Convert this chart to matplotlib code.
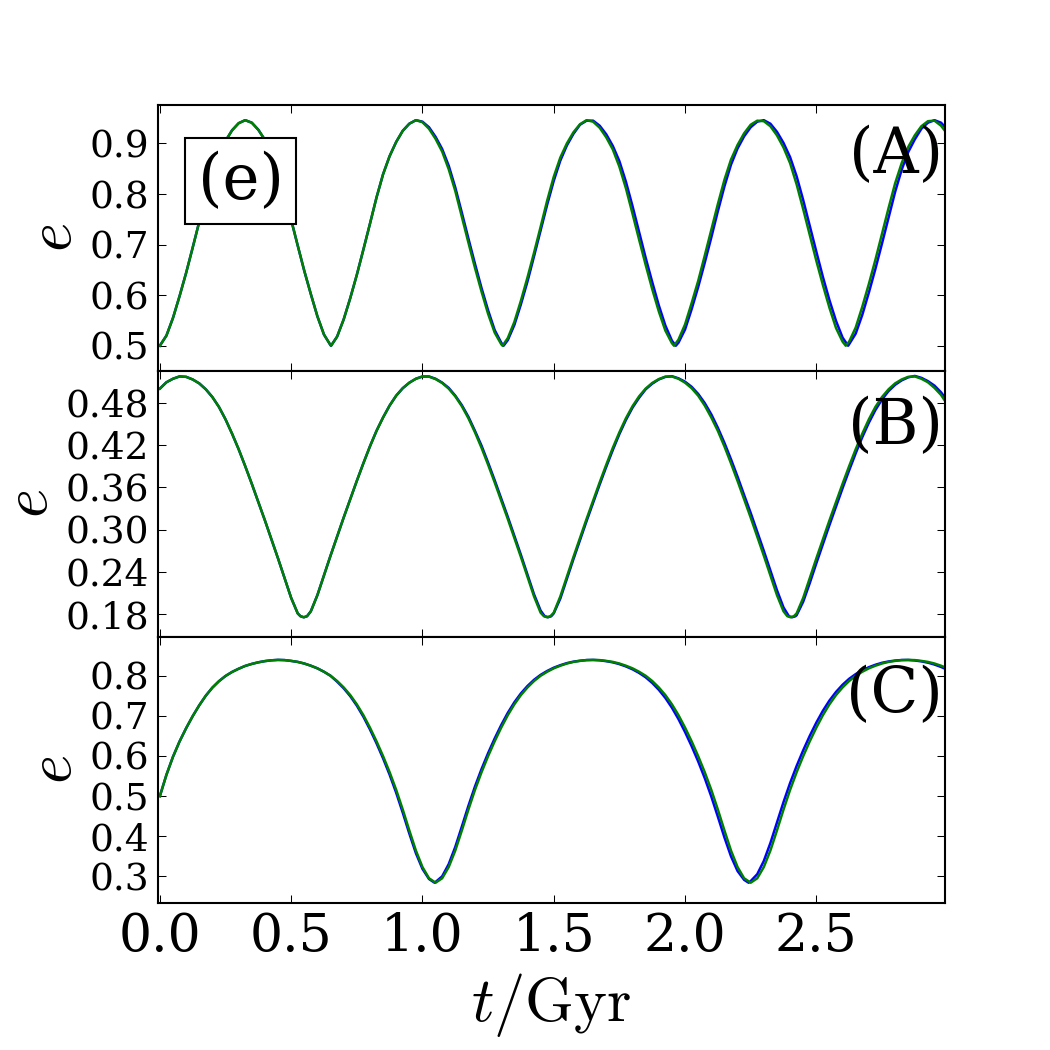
import numpy as np
import matplotlib
matplotlib.use('Agg')
import matplotlib.pyplot as plt

plt.rcParams['font.family'] = 'serif'
plt.rcParams['font.serif'] = ['DejaVu Serif']
plt.rcParams['mathtext.fontset'] = 'cm'

# sample times (Gyr), values every 0.025 Gyr
t_gyr = np.linspace(0.0, 3.0, 121)

e_A_green = [0.500, 0.520, 0.555, 0.598, 0.644, 0.694, 0.745, 0.797, 0.842, 0.878, 0.905, 0.926, 0.940,
             0.946,
             0.941, 0.927, 0.907, 0.880, 0.845, 0.800, 0.749, 0.698, 0.648, 0.602, 0.558, 0.522, 0.501,
             0.518, 0.552, 0.594, 0.640, 0.690, 0.741, 0.793, 0.839, 0.875, 0.903, 0.925, 0.939, 0.946,
             0.942, 0.929, 0.909, 0.884, 0.849, 0.806, 0.755, 0.704, 0.654, 0.607, 0.563, 0.526, 0.503,
             0.515, 0.547, 0.589, 0.635, 0.684, 0.735, 0.787, 0.834, 0.872, 0.900, 0.922, 0.938, 0.946,
             0.943, 0.931, 0.912, 0.888, 0.854, 0.811, 0.761, 0.710, 0.660, 0.612, 0.568, 0.530, 0.505,
             0.512, 0.542, 0.584, 0.628, 0.678, 0.729, 0.780, 0.828, 0.868, 0.897, 0.920, 0.937, 0.945,
             0.944, 0.934, 0.916, 0.892, 0.861, 0.819, 0.770, 0.719, 0.668, 0.620, 0.575, 0.535, 0.508,
             0.508, 0.536, 0.577, 0.622, 0.670, 0.721, 0.772, 0.821, 0.861, 0.893, 0.916, 0.934, 0.944,
             0.945, 0.935, 0.918]
e_A_blue = e_A_green[:40] + [
             0.943, 0.932, 0.913, 0.889, 0.856, 0.813, 0.763, 0.712, 0.662, 0.614, 0.570, 0.531, 0.506,
             0.511, 0.541, 0.582, 0.627, 0.677, 0.728, 0.779, 0.826, 0.866, 0.896, 0.919, 0.937, 0.945,
             0.945, 0.935, 0.918, 0.895, 0.865, 0.824, 0.776, 0.725, 0.674, 0.626, 0.580, 0.540, 0.510,
             0.506, 0.532, 0.572, 0.616, 0.664, 0.714, 0.766, 0.815, 0.858, 0.890, 0.914, 0.932, 0.943,
             0.946, 0.939, 0.923, 0.901, 0.873, 0.835, 0.788, 0.737, 0.686, 0.636, 0.590, 0.549, 0.516,
             0.503, 0.524, 0.561, 0.605, 0.652, 0.702, 0.753, 0.804, 0.848, 0.883, 0.908, 0.929, 0.941,
             0.946, 0.941, 0.927]
# minima that fall between samples
tmin_A_green = [0.652, 1.305, 1.958, 2.612]
tmin_A_blue = [0.652, 1.309, 1.965, 2.621]
emin_A = [0.500, 0.500, 0.500, 0.500]

e_B_green = [0.500, 0.509, 0.514, 0.5173,
             0.5167, 0.513, 0.5074, 0.499, 0.488, 0.474, 0.4564, 0.436, 0.414, 0.390, 0.365, 0.339, 0.313,
             0.286, 0.259, 0.231, 0.203, 0.181,
             0.1757,
             0.184, 0.207, 0.235, 0.263, 0.290, 0.317, 0.343, 0.369, 0.394, 0.418, 0.440, 0.459, 0.476,
             0.490, 0.5006, 0.5084, 0.514, 0.5172,
             0.517, 0.5135, 0.508, 0.500, 0.489, 0.475, 0.458, 0.438, 0.416, 0.392, 0.367, 0.341, 0.315,
             0.288, 0.261, 0.233, 0.205, 0.182,
             0.1755,
             0.182, 0.205, 0.233, 0.261, 0.288, 0.315, 0.341, 0.367, 0.392, 0.416, 0.438, 0.458, 0.475,
             0.489, 0.500, 0.508, 0.5135, 0.517,
             0.5172, 0.514, 0.5084, 0.5006, 0.490, 0.476, 0.459, 0.440, 0.418, 0.394, 0.369, 0.343, 0.317,
             0.290, 0.263, 0.235, 0.207, 0.184,
             0.1757,
             0.181, 0.203, 0.231, 0.259, 0.286, 0.313, 0.339, 0.365, 0.390, 0.414, 0.436, 0.4564, 0.474,
             0.488, 0.499, 0.5074, 0.513, 0.5167,
             0.5173, 0.514, 0.509, 0.501, 0.491, 0.477]
e_B_blue = e_B_green[:40] + [
             0.5172,
             0.5172, 0.514, 0.5085, 0.501, 0.490, 0.4765, 0.460, 0.440, 0.419, 0.395, 0.370, 0.344, 0.318,
             0.291, 0.264, 0.236, 0.208, 0.185,
             0.176,
             0.181, 0.202, 0.230, 0.258, 0.285, 0.312, 0.338, 0.364, 0.389, 0.413, 0.4355, 0.4556, 0.473,
             0.487, 0.499, 0.507, 0.513, 0.5166,
             0.5176, 0.5146, 0.5098, 0.5026, 0.4925, 0.4795, 0.4635, 0.4444, 0.423, 0.3997, 0.375, 0.349,
             0.3236, 0.2966, 0.2698, 0.242, 0.214, 0.1894,
             0.1765,
             0.1785, 0.1976, 0.224, 0.252, 0.2794, 0.3064, 0.3327, 0.3587, 0.384, 0.4083, 0.431, 0.4516,
             0.4696, 0.4845, 0.4965, 0.5054, 0.5117, 0.516,
             0.518, 0.5153, 0.5106, 0.5042, 0.4947, 0.4823]
tmin_B_green = [0.5355, 0.548, 0.5605, 1.4625, 1.4875, 2.3895, 2.402, 2.4145]
emin_B_green = [0.177, 0.1755, 0.177, 0.177, 0.177, 0.177, 0.1755, 0.177]
tmin_B_blue = [0.5355, 0.548, 0.5605, 1.4655, 1.478, 1.4905, 2.3955, 2.408, 2.4205]
emin_B_blue = [0.177, 0.1755, 0.177, 0.177, 0.1755, 0.177, 0.177, 0.1755, 0.177]

e_C_green = [0.500, 0.553, 0.598, 0.636, 0.669, 0.699, 0.726, 0.750, 0.770, 0.786, 0.799, 0.809, 0.817,
             0.824, 0.829, 0.833, 0.836, 0.838, 0.839,
             0.8385, 0.8365, 0.834, 0.830, 0.8245, 0.818, 0.8095, 0.7995, 0.7865, 0.7705, 0.7515, 0.7285,
             0.7015, 0.6705, 0.6365, 0.5995, 0.5595, 0.5155, 0.4665, 0.4145, 0.3645, 0.3235, 0.2955, 0.2845,
             0.2955, 0.3235, 0.3645, 0.4145, 0.4665, 0.5155, 0.5595, 0.5995, 0.6365, 0.6705, 0.7015, 0.7285,
             0.7515, 0.7705, 0.7865, 0.7995, 0.8095, 0.818, 0.8245, 0.830, 0.834, 0.8365, 0.8385, 0.839,
             0.8385, 0.8365, 0.834, 0.830, 0.8245, 0.818, 0.8095, 0.7995, 0.7865, 0.7705, 0.7515, 0.7285,
             0.7015, 0.6705, 0.6365, 0.5995, 0.5595, 0.5155, 0.4665, 0.4145, 0.3645, 0.3235, 0.2955, 0.2845,
             0.2955, 0.3235, 0.3645, 0.4145, 0.4665, 0.5155, 0.5595, 0.5995, 0.6365, 0.6705, 0.7015, 0.7285,
             0.7515, 0.7705, 0.7865, 0.7995, 0.8095, 0.818, 0.8245, 0.830, 0.834, 0.8365, 0.8385, 0.839,
             0.8385, 0.8365, 0.834, 0.830, 0.8245, 0.818]
e_C_blue = e_C_green[:27] + [
             0.7848, 0.7684, 0.7488, 0.7253, 0.6977, 0.6661, 0.6316, 0.5941, 0.5533, 0.5084, 0.4588, 0.4069,
             0.3581, 0.319, 0.2937, 0.2863, 0.3003, 0.3307, 0.3735, 0.4241, 0.4757, 0.5239, 0.5673, 0.6069,
             0.6434, 0.6769, 0.7072, 0.7335, 0.7557, 0.7741, 0.7895, 0.8018, 0.8115, 0.8196, 0.8258, 0.831,
             0.8346, 0.837, 0.8386, 0.8389, 0.838, 0.8358, 0.8329, 0.8285, 0.8227, 0.8156, 0.8066, 0.7957,
             0.7817, 0.7647, 0.7444, 0.7201, 0.6917, 0.6596, 0.6245, 0.5864, 0.5449, 0.499, 0.4488, 0.3973,
             0.3502, 0.3136, 0.2916, 0.2885, 0.3057, 0.3386, 0.3831, 0.4341, 0.4851, 0.5324, 0.575, 0.614,
             0.65, 0.6829, 0.7124, 0.7379, 0.7593, 0.7772, 0.792, 0.8037, 0.8131, 0.8208, 0.8269, 0.8318,
             0.8351, 0.8374, 0.8387, 0.8388, 0.8376, 0.8353, 0.8321, 0.8274, 0.8214, 0.8142]
tmin_C_green = []
emin_C_green = []
tmin_C_blue = [1.046, 2.242]
emin_C_blue = [0.2845, 0.2845]

panel_names = ['(A)', '(B)', '(C)']
yticks_A = [0.5, 0.6, 0.7, 0.8, 0.9]
yticks_B = [0.18, 0.24, 0.30, 0.36, 0.42, 0.48]
yticks_C = [0.3, 0.4, 0.5, 0.6, 0.7, 0.8]
xticks = [0.0, 0.5, 1.0, 1.5, 2.0, 2.5]


def with_minima(e_grid, t_extra, e_extra):
    t_all = np.concatenate([t_gyr, np.array(t_extra, dtype=float)])
    e_all = np.concatenate([np.array(e_grid, dtype=float), np.array(e_extra, dtype=float)])
    order = np.argsort(t_all, kind='stable')
    return t_all[order], e_all[order]


fig, axes = plt.subplots(3, 1, sharex=True, figsize=(7, 7), dpi=150)
fig.subplots_adjust(left=0.15, right=0.9, bottom=0.14, top=0.9, hspace=0)

blues = [with_minima(e_A_blue, tmin_A_blue, emin_A),
         with_minima(e_B_blue, tmin_B_blue, emin_B_blue),
         with_minima(e_C_blue, tmin_C_blue, emin_C_blue)]
greens = [with_minima(e_A_green, tmin_A_green, emin_A),
          with_minima(e_B_green, tmin_B_green, emin_B_green),
          with_minima(e_C_green, tmin_C_green, emin_C_green)]
yticks_all = [yticks_A, yticks_B, yticks_C]
ylims = [(0.450, 0.976), (0.1475, 0.525), (0.234, 0.896)]
name_y = [0.81, 0.79, 0.78]

for ax, (tb, eb), (tg, eg), yt, yl, name, ny in zip(axes, blues, greens, yticks_all, ylims,
                                                    panel_names, name_y):
    ax.plot(tb, eb, color='b', lw=1.2)
    ax.plot(tg, eg, color='g', lw=1.2)
    ax.set_xlim(-0.009, 2.99)
    ax.set_ylim(*yl)
    ax.set_yticks(yt)
    ax.set_ylabel(r'$e$', fontsize=30, labelpad=2.5)
    ax.tick_params(direction='in', top=True, right=True, length=4, width=0.5, labelsize=18, pad=4)
    ax.text(0.997, ny, name, transform=ax.transAxes, ha='right', va='center', fontsize=30)
    for sp in ax.spines.values():
        sp.set_linewidth(1.0)

axes[2].set_xticks(xticks)
axes[2].tick_params(axis='x', labelsize=25)
axes[2].set_xlabel(r'$t/\mathrm{Gyr}$', fontsize=30)

axes[0].text(0.1055, 0.7135, '(e)', transform=axes[0].transAxes, ha='center', va='center',
             fontsize=30, zorder=5,
             bbox=dict(boxstyle='square,pad=0.2', fc='white', ec='black', lw=1.0))

fig.savefig('out.png', dpi=150)
